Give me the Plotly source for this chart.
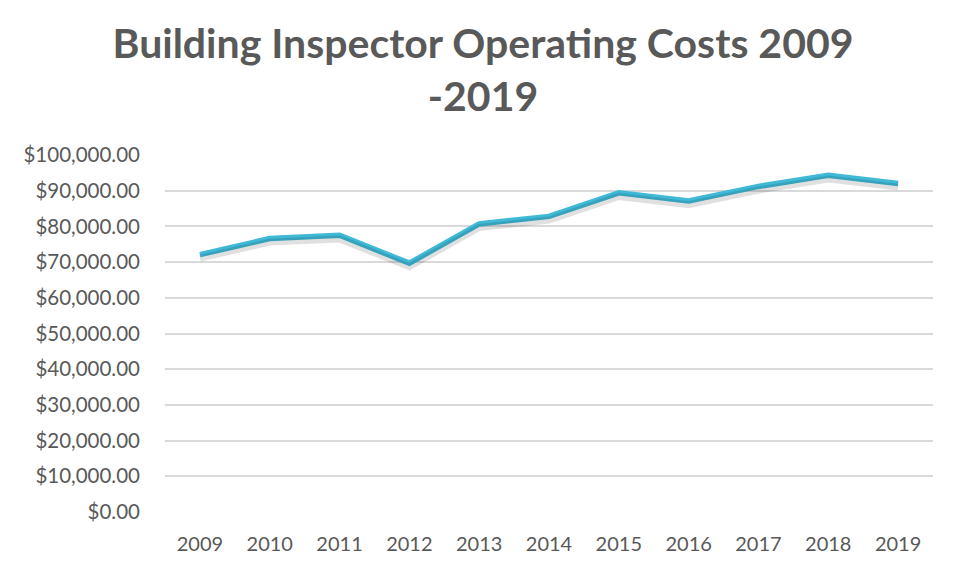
import plotly.graph_objects as go

years = ["2009", "2010", "2011", "2012", "2013", "2014", "2015", "2016", "2017", "2018", "2019"]
costs = [72100, 76600, 77500, 69700, 80700, 82800, 89400, 87100, 91200, 94300, 92000]

y_ticks = list(range(0, 100001, 10000))
y_tick_text = ["${:,.2f}".format(v) for v in y_ticks]

FONT = "Lato, 'Open Sans', sans-serif"
GRAY = "#595959"

# the page body adds an 8px offset, so the figure is sized to fit the window
W, H = 955, 563
L, R, T, B = 157, 30, 147, 59
plot_w = W - L - R

fig = go.Figure()

# soft drop shadow drawn on an overlaid, slightly shifted axis
fig.add_trace(go.Scatter(
    x=years, y=costs, mode="lines", yaxis="y2",
    line=dict(color="rgba(0,0,0,0.12)", width=7),
    hoverinfo="skip", showlegend=False,
))
fig.add_trace(go.Scatter(
    x=years, y=costs, mode="lines",
    line=dict(color="#3FB9D6", width=5.5),
    showlegend=False,
))

fig.update_layout(
    width=W, height=H,
    margin=dict(l=L, r=R, t=T, b=B, autoexpand=False),
    paper_bgcolor="white", plot_bgcolor="white",
    title=dict(
        text="<b>Building Inspector Operating Costs 2009<br>-2019</b>",
        x=475 / W, xanchor="center", y=1 - 50 / H, yanchor="top",
        font=dict(family=FONT, size=41, color=GRAY),
    ),
    xaxis=dict(
        type="category", range=[-0.5, len(years) - 0.5],
        showgrid=False, showline=False, zeroline=False,
        ticks="", tickfont=dict(family=FONT, size=20, color=GRAY),
        ticklabelstandoff=18,
    ),
    yaxis=dict(
        range=[0, 100000], tickvals=y_ticks, ticktext=y_tick_text,
        showgrid=True, gridcolor="#D9D9D9", gridwidth=1.5,
        zeroline=False, showline=False, ticks="",
        tickfont=dict(family=FONT, size=20.5, color=GRAY),
        ticklabelstandoff=24,
    ),
    yaxis2=dict(
        overlaying="y", range=[1000, 101000], visible=False,
    ),
    shapes=[
        dict(type="line", xref="paper", yref="paper",
             x0=(951 - L) / plot_w, x1=(951 - L) / plot_w, y0=-0.2, y1=1.5,
             line=dict(color="#D0D0D0", width=1.5)),
    ],
)

fig.write_html("out.html")
